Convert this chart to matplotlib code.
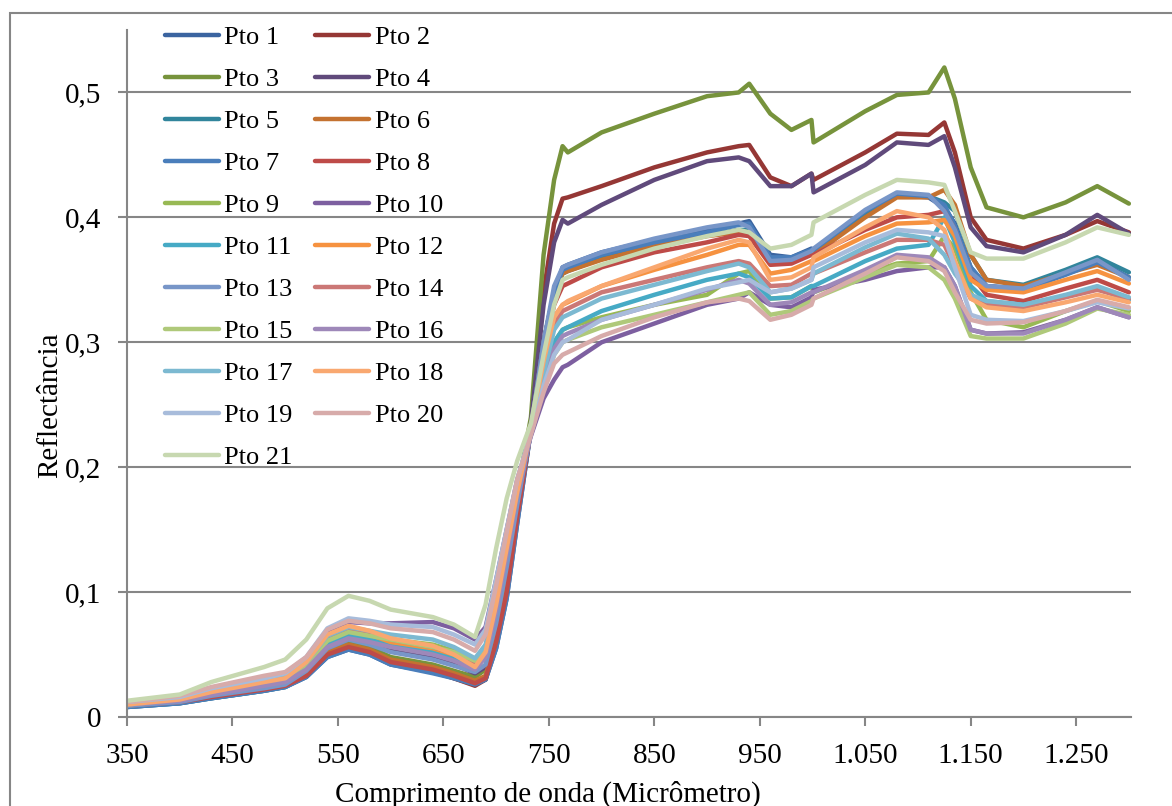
import numpy as np
import matplotlib
matplotlib.use("Agg")
import matplotlib.pyplot as plt
import matplotlib.patches as mpatches

plt.rcParams["font.family"] = ["Liberation Serif", "DejaVu Serif"]

wl = [350, 400, 430, 480, 500, 520, 540, 560, 580, 600, 640, 660, 680,
      690, 700, 710, 720, 733, 745, 755,
      763, 768, 800, 850, 900, 930, 940, 960, 980, 999, 1001,
      1050, 1080, 1110, 1125, 1135, 1150, 1165, 1200, 1240, 1270, 1300]

# visible part, red edge, near infrared part
pto1 = [.008, .011, .015, .021, .024, .032, .048, .054, .050, .042, .036, .031, .026,
        .030, .055, .095, .155, .23, .30, .34,
        .360, .362, .372, .382, .390, .395, .397, .370, .368, .375, .372,
        .405, .418, .416, .408, .395, .360, .345, .343, .355, .365, .352]
pto2 = [.009, .012, .016, .022, .025, .033, .049, .055, .051, .043, .037, .031, .025,
        .030, .060, .11, .17, .235, .34, .395,
        .415, .416, .425, .440, .452, .457, .458, .432, .425, .435, .430,
        .452, .467, .466, .476, .452, .400, .382, .375, .386, .397, .388]
pto3 = [.009, .012, .017, .023, .026, .036, .053, .060, .056, .048, .042, .037, .032,
        .038, .070, .12, .18, .24, .37, .43,
        .457, .452, .468, .483, .497, .500, .507, .483, .470, .478, .460,
        .485, .498, .500, .520, .495, .440, .408, .400, .412, .425, .411]
pto4 = [.010, .013, .018, .024, .027, .038, .057, .064, .060, .053, .047, .042, .035,
        .040, .070, .115, .175, .235, .33, .38,
        .398, .395, .410, .430, .445, .448, .445, .425, .425, .435, .420,
        .442, .460, .458, .465, .440, .392, .377, .372, .386, .402, .387]
pto5 = [.008, .011, .015, .021, .024, .033, .050, .056, .052, .044, .037, .032, .028,
        .032, .060, .10, .16, .23, .30, .34,
        .355, .357, .367, .378, .386, .390, .390, .366, .366, .372, .372,
        .403, .418, .417, .412, .405, .370, .350, .346, .358, .368, .356]
pto6 = [.009, .012, .016, .022, .025, .035, .052, .058, .054, .046, .040, .035, .029,
        .033, .062, .105, .165, .23, .30, .34,
        .355, .357, .366, .377, .385, .388, .388, .366, .365, .372, .370,
        .400, .416, .416, .422, .410, .370, .350, .345, .355, .362, .352]
pto7 = [.008, .011, .015, .021, .024, .032, .048, .054, .050, .042, .035, .031, .026,
        .030, .055, .095, .155, .23, .30, .34,
        .358, .360, .370, .380, .388, .394, .395, .368, .368, .374, .374,
        .405, .419, .417, .410, .393, .360, .345, .342, .354, .364, .352]
pto8 = [.009, .012, .016, .022, .025, .033, .050, .056, .052, .044, .038, .033, .027,
        .031, .060, .10, .16, .23, .29, .33,
        .345, .347, .360, .372, .380, .386, .385, .362, .363, .370, .370,
        .390, .400, .402, .405, .390, .355, .338, .333, .343, .350, .340]
pto9 = [.010, .014, .019, .026, .029, .041, .060, .067, .065, .062, .058, .053, .045,
        .055, .090, .135, .18, .228, .27, .30,
        .310, .312, .320, .330, .338, .355, .357, .335, .336, .345, .340,
        .355, .363, .365, .385, .375, .340, .318, .312, .325, .333, .325]
pto10 = [.011, .015, .020, .028, .031, .045, .068, .076, .075, .075, .076, .071, .062,
         .072, .11, .15, .19, .225, .255, .27,
         .280, .282, .300, .315, .330, .335, .340, .330, .328, .336, .342,
         .350, .357, .360, .360, .345, .310, .307, .308, .318, .328, .320]
pto11 = [.009, .013, .018, .025, .028, .040, .059, .066, .062, .058, .052, .047, .040,
         .048, .080, .125, .175, .228, .27, .30,
         .310, .312, .325, .338, .350, .355, .352, .335, .336, .345, .345,
         .365, .375, .378, .400, .380, .345, .333, .330, .337, .343, .334]
pto12 = [.010, .014, .019, .027, .030, .042, .063, .070, .066, .060, .055, .050, .042,
         .050, .085, .13, .18, .23, .285, .32,
         .330, .332, .345, .358, .370, .378, .378, .355, .358, .365, .365,
         .385, .395, .396, .398, .385, .350, .342, .340, .350, .357, .347]
pto13 = [.009, .012, .017, .023, .026, .037, .055, .062, .058, .052, .046, .041, .036,
         .042, .075, .12, .17, .23, .30, .345,
         .360, .362, .372, .383, .392, .396, .392, .365, .366, .373, .375,
         .406, .420, .418, .405, .390, .356, .345, .343, .356, .366, .350]
pto14 = [.010, .014, .020, .028, .031, .043, .064, .071, .068, .062, .056, .051, .044,
         .054, .090, .135, .18, .23, .28, .315,
         .325, .327, .340, .350, .360, .365, .363, .345, .346, .355, .355,
         .372, .382, .382, .378, .360, .335, .330, .328, .336, .342, .335]
pto15 = [.010, .014, .019, .027, .030, .041, .061, .068, .065, .062, .056, .052, .045,
         .056, .095, .14, .185, .228, .265, .29,
         .300, .302, .312, .322, .332, .338, .340, .322, .325, .333, .335,
         .352, .362, .360, .350, .335, .305, .303, .303, .315, .327, .322]
pto16 = [.010, .013, .018, .025, .028, .038, .056, .063, .060, .056, .050, .045, .038,
         .048, .085, .13, .178, .226, .265, .295,
         .305, .307, .318, .330, .342, .350, .347, .330, .332, .340, .340,
         .358, .370, .368, .360, .345, .310, .307, .307, .318, .328, .320]
pto17 = [.011, .015, .021, .029, .032, .044, .065, .072, .069, .066, .062, .056, .047,
         .058, .095, .14, .185, .23, .275, .31,
         .320, .322, .335, .346, .357, .363, .360, .340, .343, .350, .355,
         .376, .387, .383, .370, .355, .338, .333, .330, .338, .345, .336]
pto18 = [.010, .014, .020, .028, .031, .044, .066, .073, .069, .063, .057, .050, .040,
         .052, .090, .135, .18, .23, .285, .32,
         .330, .333, .345, .360, .375, .382, .380, .350, .352, .360, .368,
         .392, .405, .400, .390, .365, .335, .328, .325, .332, .338, .332]
pto19 = [.012, .016, .023, .031, .035, .048, .071, .079, .077, .074, .072, .066, .058,
         .070, .11, .15, .19, .228, .265, .29,
         .300, .302, .318, .330, .343, .348, .350, .340, .343, .350, .360,
         .380, .390, .388, .385, .360, .322, .318, .317, .325, .332, .327]
pto20 = [.012, .017, .024, .033, .036, .048, .070, .077, .075, .071, .068, .062, .053,
         .066, .105, .148, .19, .226, .26, .283,
         .290, .292, .305, .320, .332, .335, .333, .318, .322, .330, .335,
         .355, .368, .365, .357, .340, .318, .315, .316, .325, .334, .328]
pto21 = [.013, .018, .028, .040, .046, .062, .087, .097, .093, .086, .080, .074, .064,
         .090, .135, .175, .205, .235, .29, .33,
         .350, .352, .362, .375, .385, .390, .388, .375, .378, .386, .396,
         .418, .430, .428, .426, .405, .372, .367, .367, .380, .392, .386]

series = [pto1, pto2, pto3, pto4, pto5, pto6, pto7, pto8, pto9, pto10, pto11,
          pto12, pto13, pto14, pto15, pto16, pto17, pto18, pto19, pto20, pto21]
labels = ["Pto " + str(i + 1) for i in range(len(series))]
colors = ["#3B64A0", "#953735", "#77933C", "#604A7B", "#31859C", "#C47230",
          "#4A7EBB", "#BE4B48", "#98B954", "#7D5FA0", "#46AAC5", "#F69240",
          "#7896C8", "#CB7876", "#AFC97A", "#9E88B9", "#7CB9D1", "#F9A870",
          "#A8BCDB", "#D7ABAA", "#C7D8B0"]

xticks = [350, 450, 550, 650, 750, 850, 950, 1050, 1150, 1250]
xticklabels = ["350", "450", "550", "650", "750", "850", "950", "1.050", "1.150", "1.250"]
yticks = [0, 0.1, 0.2, 0.3, 0.4, 0.5]
yticklabels = ["0", "0,1", "0,2", "0,3", "0,4", "0,5"]

W, H = 1172, 806
fig = plt.figure(figsize=(W / 100, H / 100), dpi=100)
ax = fig.add_axes([127 / W, 1 - 717 / H, (1131 - 127) / W, (717 - 30) / H])

lines = []
for vals, lab, col in zip(series, labels, colors):
    ln, = ax.plot(wl, vals, color=col, lw=3.2, label=lab,
                  solid_capstyle="round", solid_joinstyle="round")
    lines.append(ln)

gray = "#868686"
ax.set_xlim(350, 1302)
ax.set_ylim(0, 0.55)
ax.set_xticks(xticks)
ax.set_xticklabels(xticklabels)
ax.set_yticks(yticks)
ax.set_yticklabels(yticklabels)
ax.yaxis.grid(True, color=gray, lw=1.5)
ax.set_axisbelow(True)
for s in ["top", "right"]:
    ax.spines[s].set_visible(False)
for s in ["left", "bottom"]:
    ax.spines[s].set_color(gray)
    ax.spines[s].set_linewidth(1.5)
ax.tick_params(axis="both", colors=gray, labelcolor="black", labelsize=21,
               width=1.5, length=6.5)
ax.tick_params(axis="y", pad=12)
ax.tick_params(axis="x", pad=12)

fig.text(50 / W, 1 - 405 / H, "Reflectância", rotation=90, fontsize=21,
         ha="center", va="center")
fig.text(548 / W, 1 - 794 / H, "Comprimento de onda (Micrômetro)", fontsize=21,
         ha="center", va="center")

# legend filled row by row like the original (odd points left, even right)
order = list(range(0, 21, 2)) + list(range(1, 21, 2))
ax.legend([lines[i] for i in order], [labels[i] for i in order], ncol=2,
          loc="upper left", bbox_to_anchor=(165 / W, 1 - 26 / H),
          bbox_transform=fig.transFigure, frameon=False, fontsize=19,
          handlelength=2.05, handletextpad=0.2, columnspacing=0.85,
          labelspacing=0.7, borderpad=0, borderaxespad=0)

fig.patches.append(mpatches.Rectangle((10 / W, -0.01), 1.5, 1 - 13 / H + 0.01,
                                      transform=fig.transFigure, fill=False,
                                      edgecolor=gray, lw=1.5))

fig.savefig("out.png", dpi=100)
